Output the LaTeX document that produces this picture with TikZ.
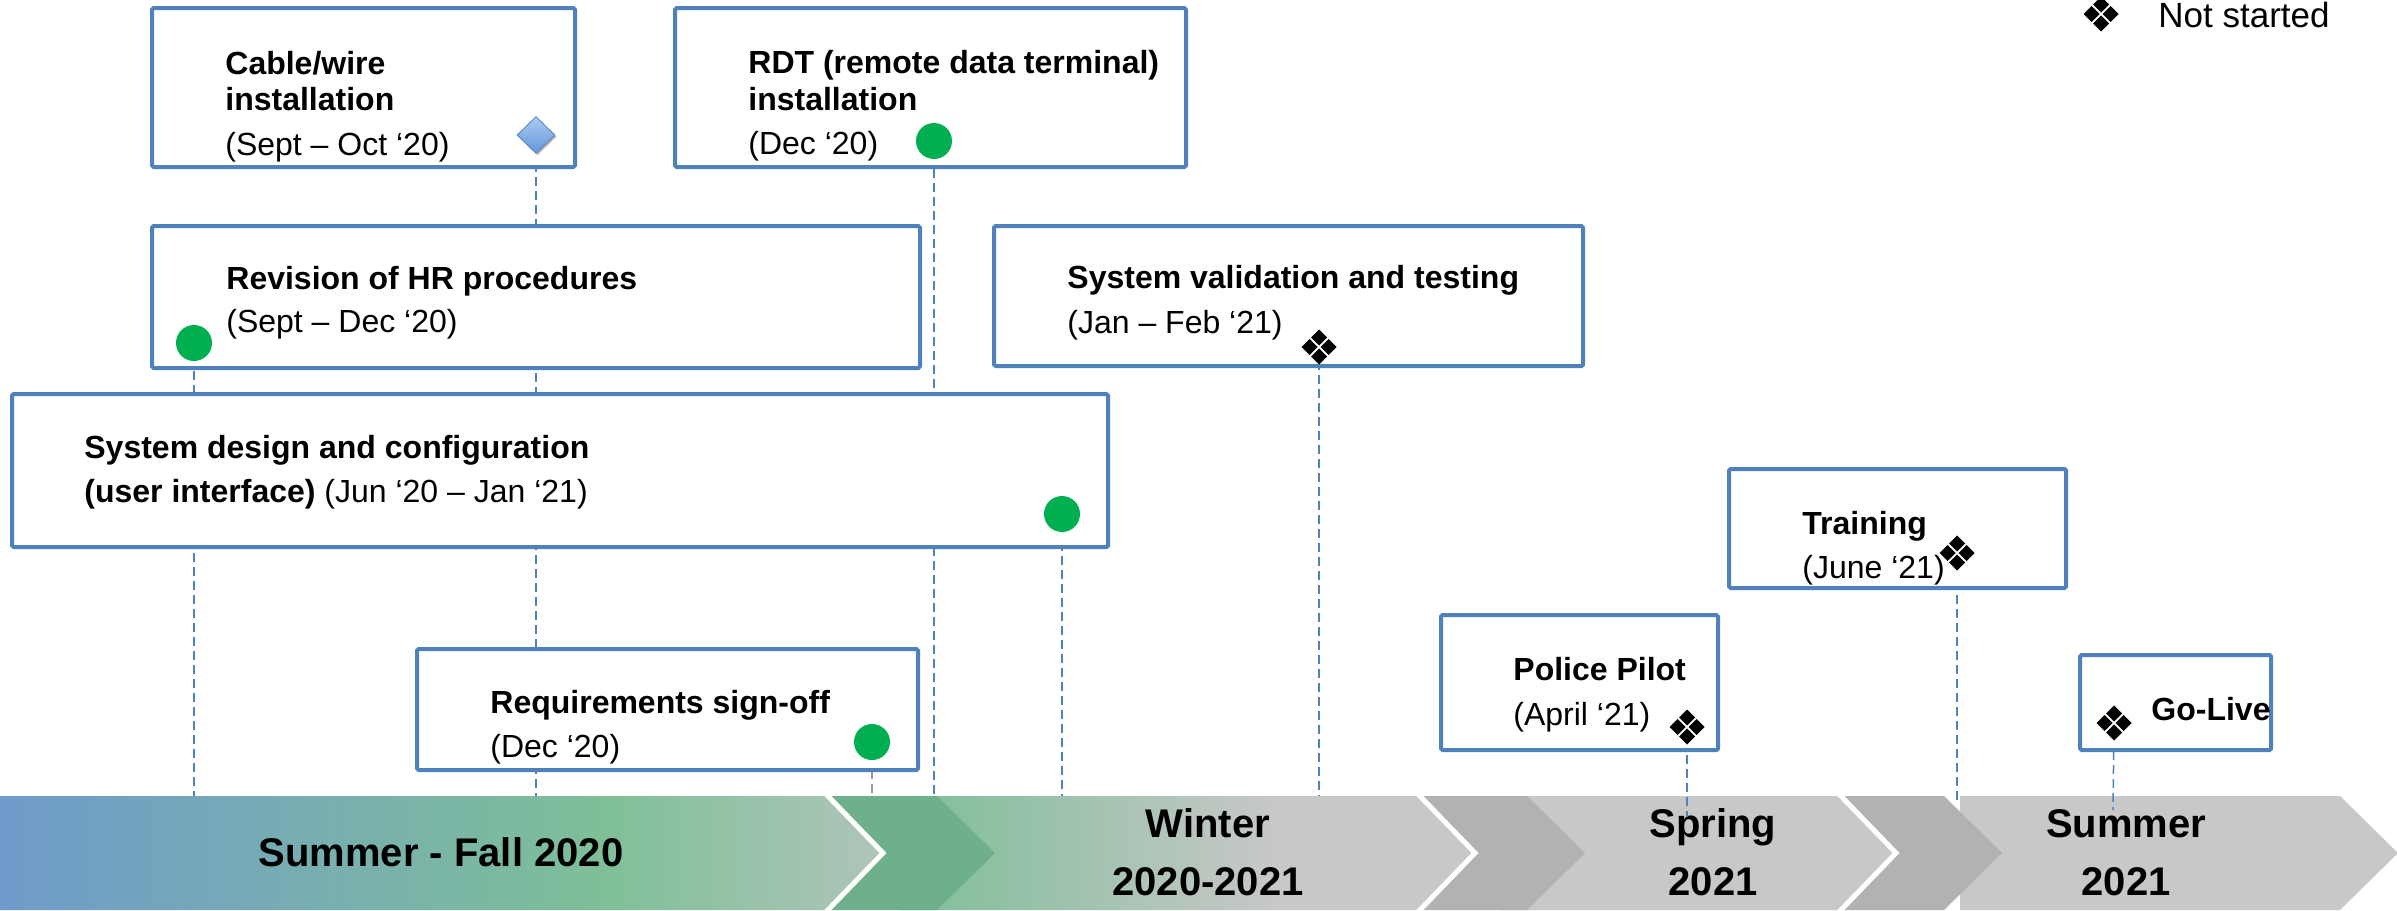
\documentclass[tikz,border=0pt]{standalone}
\usepackage{fontspec}
\setmainfont{Liberation Sans}
\usetikzlibrary{shapes.geometric,shadows}
\pgfdeclarelayer{band}
\pgfdeclarelayer{lines}
\pgfsetlayers{band,lines,main}
\definecolor{boxblue}{RGB}{79,129,189}
\definecolor{dotgreen}{RGB}{0,176,80}
\definecolor{aoneA}{RGB}{112,155,203}
\definecolor{aoneB}{RGB}{126,191,152}
\definecolor{aoneC}{RGB}{175,197,185}
\definecolor{atwoA}{RGB}{132,191,157}
\definecolor{lgray}{RGB}{200,200,200}
\definecolor{dgray}{RGB}{178,178,178}
\definecolor{dgreen}{RGB}{110,176,140}
\definecolor{diaTop}{RGB}{172,203,242}
\definecolor{diaBot}{RGB}{100,150,215}
\definecolor{diaLine}{RGB}{84,134,200}
\pgfdeclarehorizontalshading{aone}{100bp}{color(0bp)=(aoneA); color(25bp)=(aoneA); color(59bp)=(aoneB); color(75bp)=(aoneC); color(100bp)=(aoneC)}
\pgfdeclarehorizontalshading{atwo}{100bp}{color(0bp)=(atwoA); color(28bp)=(atwoA); color(58bp)=(lgray); color(100bp)=(lgray)}
\tikzset{
  box/.style={draw=boxblue, line width=2pt, fill=white, rounded corners=0.8pt, inner sep=0pt},
  ttl/.style={anchor=base west, inner sep=0pt, font=\bfseries\fontsize{16}{18}\selectfont},
  dte/.style={anchor=base west, inner sep=0pt, font=\fontsize{16}{18}\selectfont},
  bandtxt/.style={anchor=base, inner sep=0pt, font=\bfseries\fontsize{20}{24}\selectfont},
  gdot/.style={circle, fill=dotgreen, minimum size=18pt, inner sep=0pt},
  quadmark/.style={circle, minimum size=18pt, inner sep=0pt},
  bdia/.style={diamond, aspect=1, minimum width=19pt, minimum height=18.5pt, inner sep=0pt,
    top color=diaTop, bottom color=diaBot, draw=diaLine, line width=0.4pt,
    drop shadow={shadow xshift=0.8pt, shadow yshift=-0.8pt, opacity=0.3, fill=black}},
  vline/.style={draw=boxblue, line width=0.75pt, dash pattern=on 4.5pt off 2.5pt},
  chevline/.style={draw=white, line width=2.5pt, line join=miter}
}
\begin{document}
\begin{tikzpicture}[x=0.5pt, y=-0.5pt]
\useasboundingbox (0,0) rectangle (2397,910);

% ---------- boxes ----------
\node[box, minimum width=211.5pt, minimum height=79.5pt] (b1) at (363.5,87.5) {};
\node[box, minimum width=255.5pt, minimum height=79.5pt] (b2) at (930.5,87.5) {};
\node[box, minimum width=384pt, minimum height=71pt] (b3) at (536,297) {};
\node[box, minimum width=294.5pt, minimum height=70pt] (b4) at (1288.5,296) {};
\node[box, minimum width=548pt, minimum height=76.5pt] (b5) at (560,470.5) {};
\node[box, minimum width=168.5pt, minimum height=59.5pt] (b6) at (1897.5,528.5) {};
\node[box, minimum width=138.5pt, minimum height=67.5pt] (b7) at (1579.5,682.5) {};
\node[box, minimum width=250.5pt, minimum height=60.5pt] (b8) at (667.5,709.5) {};
\node[box, minimum width=95.5pt, minimum height=47.5pt] (b9) at (2175.5,702.5) {};

% ---------- box texts ----------
\node[ttl] (t1a) at (225,74) {Cable/wire};
\node[ttl] (t1b) at (225,110) {installation};
\node[dte] (t1c) at (225,155) {(Sept – Oct ‘20)};
\node[ttl] (t2a) at (748,73) {RDT (remote data terminal)};
\node[ttl] (t2b) at (748,110) {installation};
\node[dte] (t2c) at (748,154) {(Dec ‘20)};
\node[ttl] (t3a) at (226,289) {Revision of HR procedures};
\node[dte] (t3b) at (226,332) {(Sept – Dec ‘20)};
\node[ttl] (t4a) at (1067,288) {System validation and testing};
\node[dte] (t4b) at (1067,333) {(Jan – Feb ‘21)};
\node[ttl] (t5a) at (84,458) {System design and configuration};
\node[dte] (t5b) at (84,502) {\textbf{(user interface)} (Jun ‘20 – Jan ‘21)};
\node[ttl] (t6a) at (1802,534) {Training};
\node[dte] (t6b) at (1802,578) {(June ‘21)};
\node[ttl] (t7a) at (1513,680) {Police Pilot};
\node[dte] (t7b) at (1513,725) {(April ‘21)};
\node[ttl] (t8a) at (490,713) {Requirements sign-off};
\node[dte] (t8b) at (490,757) {(Dec ‘20)};
\node[ttl] (t9a) at (2151,720) {Go-Live};

% legend
\node[anchor=base west, inner sep=0pt, font=\fontsize{17.5}{20}\selectfont] (lgt) at (2158,27) {Not started};

% ---------- markers ----------
\node[bdia] (m1) at (536,135) {};
\node[gdot] (m2) at (934,141) {};
\node[gdot] (m3) at (194,343) {};
\node[quadmark] (m4) at (1319,347) {};
\node[gdot] (m5) at (1062,514) {};
\node[quadmark] (m6) at (1957,553) {};
\node[quadmark] (m7) at (1687,727) {};
\node[gdot] (m8) at (872,742) {};
\node[quadmark] (m9) at (2114,723) {};
\node[quadmark] (lg) at (2101,14) {};
\foreach \m in {m4,m6,m7,m9,lg}{
  \fill[black, shift={(\m.center)}]
    (0,-17.5) -- (8,-9.5) -- (0,-1.5) -- (-8,-9.5) -- cycle
    (9.5,-8) -- (17.5,0) -- (9.5,8) -- (1.5,0) -- cycle
    (0,1.5) -- (8,9.5) -- (0,17.5) -- (-8,9.5) -- cycle
    (-9.5,-8) -- (-1.5,0) -- (-9.5,8) -- (-17.5,0) -- cycle;
}

% ---------- line ends ----------
\coordinate (e1) at (536,796);
\coordinate (e2) at (934,796);
\coordinate (e3) at (194,796);
\coordinate (e4) at (1319,796);
\coordinate (e5) at (1062,796);
\coordinate (e6) at (1957,800);
\coordinate (e7) at (1687,817);
\coordinate (e8) at (872,796);
\coordinate (e9) at (2113,810);

\begin{pgfonlayer}{lines}
\draw[vline] (m1.center) -- (e1);
\draw[vline] (m2.center) -- (e2);
\draw[vline] (m3.center) -- (e3);
\draw[vline] (m4.center) -- (e4);
\draw[vline] (m5.center) -- (e5);
\draw[vline] (m6.center) -- (e6);
\draw[vline] (m7.center) -- (e7);
\draw[vline, draw=gray!80] (m8.center) -- (e8);
\draw[vline] (m9.center) -- (e9);
\end{pgfonlayer}

% ---------- bottom band ----------
\begin{pgfonlayer}{band}
\fill[lgray] (1960,796) -- (2340,796) -- (2398,853) -- (2340,910) -- (1960,910) -- cycle;
\fill[dgray] (1838,796) -- (1944,796) -- (2002,853) -- (1944,910) -- (1838,910) -- (1896,853) -- cycle;
\fill[lgray] (1500,796) -- (1838,796) -- (1896,853) -- (1838,910) -- (1500,910) -- cycle;
\fill[dgray] (1417,796) -- (1527,796) -- (1585,853) -- (1527,910) -- (1417,910) -- (1475,853) -- cycle;
\shade[shading=atwo] (900,796) -- (1417,796) -- (1475,853) -- (1417,910) -- (900,910) -- cycle;
\fill[dgreen] (825,796) -- (937,796) -- (995,853) -- (937,910) -- (825,910) -- (883,853) -- cycle;
\shade[shading=aone] (0,796) -- (825,796) -- (883,853) -- (825,910) -- (0,910) -- cycle;
\draw[chevline] (825,793) -- (883,853) -- (825,913);
\draw[chevline] (1417,793) -- (1475,853) -- (1417,913);
\draw[chevline] (1838,793) -- (1896,853) -- (1838,913);
\node[bandtxt] (p1) at (441,866) {Summer - Fall 2020};
\node[bandtxt] (p2a) at (1208,837) {Winter};
\node[bandtxt] (p2b) at (1208,895) {2020-2021};
\node[bandtxt] (p3a) at (1713,837) {Spring};
\node[bandtxt] (p3b) at (1713,895) {2021};
\node[bandtxt] (p4a) at (2126,837) {Summer};
\node[bandtxt] (p4b) at (2126,895) {2021};
\end{pgfonlayer}
\end{tikzpicture}
\end{document}
